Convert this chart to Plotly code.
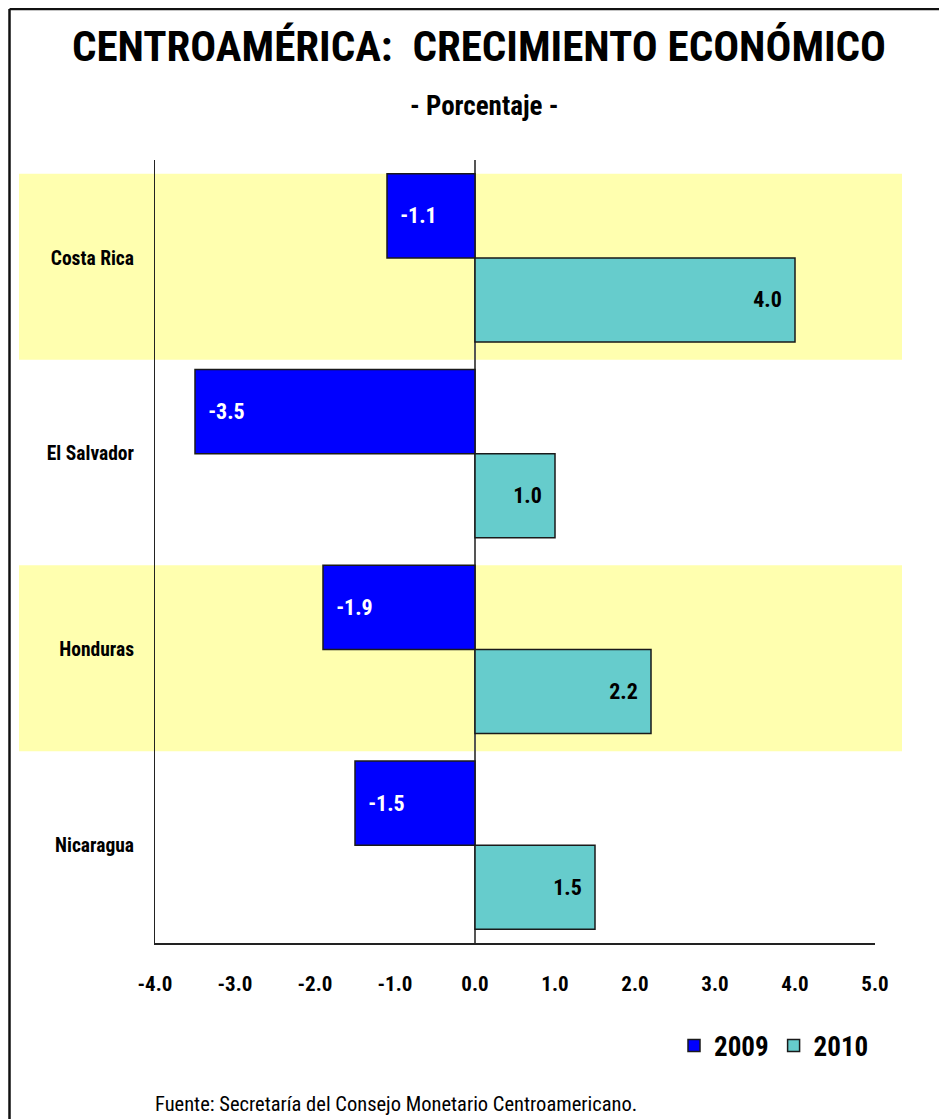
import plotly.graph_objects as go

# ---- data ----
countries = ["Costa Rica", "El Salvador", "Honduras", "Nicaragua"]
growth_2009 = [-1.1, -3.5, -1.9, -1.5]
growth_2010 = [4.0, 1.0, 2.2, 1.5]
series_names = ["2009", "2010"]
x_ticks = [-4, -3, -2, -1, 0, 1, 2, 3, 4, 5]
x_tick_labels = ["-4.0", "-3.0", "-2.0", "-1.0", "0.0", "1.0", "2.0", "3.0", "4.0", "5.0"]
highlighted = ["Costa Rica", "Honduras"]

title_text = "CENTROAMÉRICA:\u00a0 CRECIMIENTO ECONÓMICO"
subtitle_text = "- Porcentaje -"
source_text = "Fuente: Secretaría del Consejo Monetario Centroamericano."

NARROW = "Liberation Sans Narrow, Arial Narrow, Roboto Condensed, sans-serif"
OFF = 8                      # page body margin in the browser
SW, SH = 947, 1119           # screen size
W, H = SW - OFF, SH - OFF    # figure size
PX0, PX1, PY0, PY1 = 155, 875, 160, 943   # plot area in screen pixels
PW, PH = PX1 - PX0, PY1 - PY0
L, T = PX0 - OFF, PY0 - OFF
R, B = W - L - PW, H - T - PH


def px_x(px):
    return (px - PX0) / PW


def px_y(py):
    return (PY1 - py) / PH


fig = go.Figure()
fig.add_trace(go.Bar(
    y=countries, x=growth_2009, name=series_names[0], orientation="h",
    marker=dict(color="#0000FF", line=dict(color="#1a1a1a", width=1.5)),
    text=["\u00a0\u00a0" + f"{v:.1f}" for v in growth_2009],
    textposition="inside", insidetextanchor="end",
    textfont=dict(family=NARROW, size=22, color="white", weight="bold"),
    cliponaxis=False,
))
fig.add_trace(go.Bar(
    y=countries, x=growth_2010, name=series_names[1], orientation="h",
    marker=dict(color="#66CCCC", line=dict(color="#1a1a1a", width=1.5)),
    text=[f"{v:.1f}" + "\u00a0\u00a0" for v in growth_2010],
    textposition="inside", insidetextanchor="end",
    textfont=dict(family=NARROW, size=22, color="black", weight="bold"),
    cliponaxis=False,
))

shapes = []
# yellow highlight bands
for c in highlighted:
    i = countries.index(c)
    shapes.append(dict(
        type="rect", xref="paper", yref="y", layer="below",
        x0=px_x(19), x1=px_x(902), y0=i - 0.43, y1=i + 0.52,
        fillcolor="#FFFFAF", line=dict(width=0),
    ))
# outer frame (left and top)
shapes.append(dict(type="line", xref="paper", yref="paper",
                   x0=px_x(9.5), x1=px_x(9.5), y0=px_y(9), y1=px_y(SH + 20),
                   line=dict(color="#111", width=2.5)))
shapes.append(dict(type="line", xref="paper", yref="paper",
                   x0=px_x(9.5), x1=px_x(SW + 20), y0=px_y(9), y1=px_y(9),
                   line=dict(color="#111", width=2.5)))

annotations = [
    dict(text=subtitle_text, xref="paper", yref="paper", x=px_x(484), y=px_y(106),
         xanchor="center", yanchor="middle", showarrow=False,
         font=dict(family=NARROW, size=27, color="black", weight="bold")),
    dict(text=source_text, xref="paper", yref="paper", x=px_x(153), y=px_y(1104),
         xanchor="left", yanchor="middle", showarrow=False,
         font=dict(family=NARROW, size=20.5, color="black")),
]

fig.update_layout(
    width=W, height=H,
    margin=dict(l=L, r=R, t=T, b=B, autoexpand=False),
    paper_bgcolor="white", plot_bgcolor="rgba(0,0,0,0)",
    barmode="group", bargap=0.14, bargroupgap=0,
    title=dict(text=title_text, x=(479 - OFF) / W, xanchor="center",
               y=1 - (46 - OFF) / H, yanchor="middle", yref="container",
               font=dict(family=NARROW, size=43, color="black", weight="bold")),
    xaxis=dict(range=[-4, 5], tickvals=x_ticks, ticktext=x_tick_labels,
               showgrid=False, zeroline=True, zerolinecolor="#555", zerolinewidth=1.5,
               showline=True, linecolor="#222", linewidth=1.5, ticks="",
               ticklabelstandoff=21,
               tickfont=dict(family=NARROW, size=21, color="black", weight="bold")),
    yaxis=dict(autorange="reversed", showgrid=False, showline=True,
               linecolor="#222", linewidth=1.2, ticks="", ticklabelstandoff=16,
               tickfont=dict(family=NARROW, size=19.5, color="black", weight="bold")),
    legend=dict(orientation="h", xanchor="right", x=px_x(874),
                yanchor="middle", y=px_y(1046), bgcolor="rgba(0,0,0,0)",
                font=dict(family=NARROW, size=27, color="black", weight="bold"),
                itemwidth=30, traceorder="normal", tracegroupgap=0),
    shapes=shapes, annotations=annotations,
)

fig.write_html("out.html")
